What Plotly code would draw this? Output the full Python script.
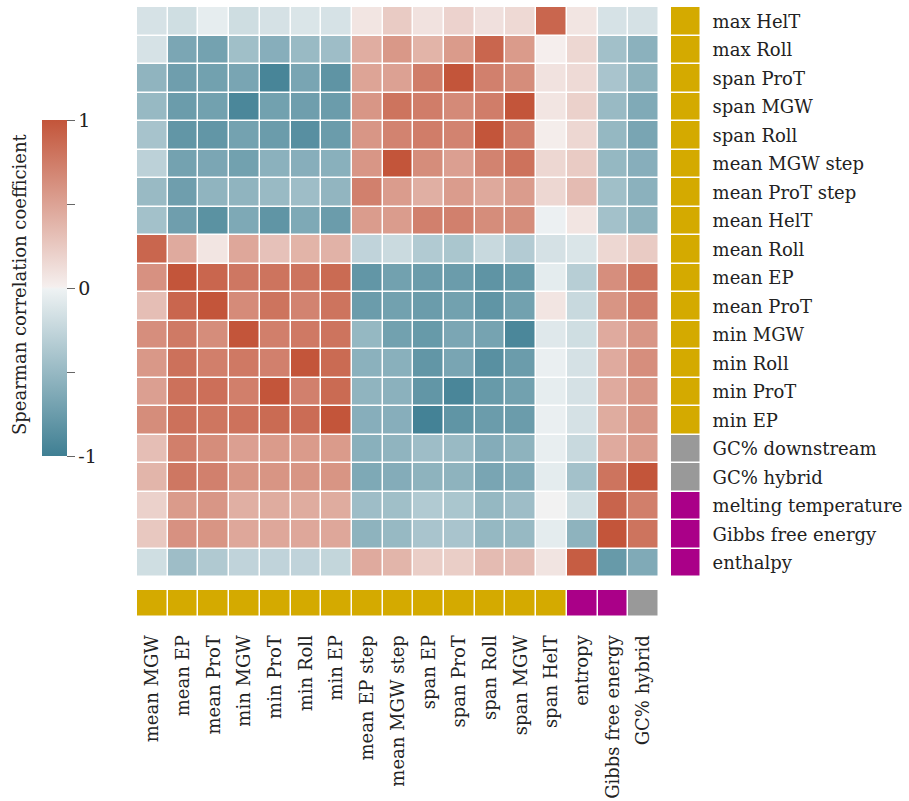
import plotly.graph_objects as go

# Feature names
row_labels = [
    "max HelT", "max Roll", "span ProT", "span MGW", "span Roll",
    "mean MGW step", "mean ProT step", "mean HelT", "mean Roll", "mean EP",
    "mean ProT", "min MGW", "min Roll", "min ProT", "min EP",
    "GC% downstream", "GC% hybrid", "melting temperature",
    "Gibbs free energy", "enthalpy",
]
col_labels = [
    "mean MGW", "mean EP", "mean ProT", "min MGW", "min ProT", "min Roll",
    "min EP", "mean EP step", "mean MGW step", "span EP", "span ProT",
    "span Roll", "span MGW", "span HelT", "entropy", "Gibbs free energy",
    "GC% hybrid",
]

# Feature groups: 0 = DNA shape, 1 = GC content, 2 = thermodynamics
row_groups = [0] * 15 + [1, 1] + [2, 2, 2]
col_groups = [0] * 14 + [2, 2, 1]

# Spearman correlation coefficients (rows x columns)
rho = [
    [-0.14, -0.18, -0.05, -0.19, -0.15, -0.12, -0.14, 0.07, 0.24, 0.09, 0.19, 0.10, 0.15, 0.89, 0.07, -0.14, -0.15],
    [-0.14, -0.66, -0.70, -0.45, -0.59, -0.49, -0.46, 0.43, 0.57, 0.39, 0.55, 0.89, 0.55, 0.01, 0.16, -0.44, -0.57],
    [-0.54, -0.73, -0.71, -0.67, -0.95, -0.67, -0.82, 0.49, 0.51, 0.74, 1.00, 0.72, 0.64, 0.09, 0.14, -0.40, -0.55],
    [-0.50, -0.75, -0.71, -0.93, -0.71, -0.73, -0.75, 0.58, 0.80, 0.74, 0.66, 0.74, 1.00, 0.07, 0.20, -0.49, -0.63],
    [-0.41, -0.80, -0.80, -0.70, -0.75, -0.86, -0.75, 0.58, 0.70, 0.74, 0.70, 1.00, 0.74, 0.02, 0.16, -0.51, -0.67],
    [-0.29, -0.70, -0.66, -0.71, -0.57, -0.59, -0.58, 0.58, 1.00, 0.64, 0.52, 0.70, 0.81, 0.16, 0.24, -0.51, -0.59],
    [-0.49, -0.73, -0.54, -0.54, -0.49, -0.46, -0.53, 0.72, 0.54, 0.42, 0.54, 0.46, 0.54, 0.16, 0.34, -0.45, -0.57],
    [-0.43, -0.73, -0.84, -0.64, -0.81, -0.64, -0.75, 0.54, 0.54, 0.72, 0.72, 0.64, 0.64, -0.02, 0.07, -0.43, -0.55],
    [0.89, 0.45, 0.07, 0.47, 0.30, 0.39, 0.40, -0.27, -0.21, -0.35, -0.39, -0.22, -0.34, -0.15, -0.12, 0.16, 0.24],
    [0.61, 1.00, 0.89, 0.78, 0.80, 0.80, 0.86, -0.80, -0.71, -0.75, -0.75, -0.82, -0.77, -0.06, -0.32, 0.63, 0.80],
    [0.32, 0.89, 1.00, 0.65, 0.80, 0.70, 0.80, -0.75, -0.71, -0.75, -0.71, -0.81, -0.71, 0.07, -0.22, 0.59, 0.74],
    [0.63, 0.76, 0.64, 1.00, 0.73, 0.77, 0.80, -0.51, -0.71, -0.77, -0.66, -0.69, -0.93, -0.09, -0.18, 0.45, 0.58],
    [0.57, 0.82, 0.73, 0.77, 0.72, 1.00, 0.86, -0.57, -0.58, -0.80, -0.67, -0.85, -0.75, -0.03, -0.15, 0.45, 0.63],
    [0.52, 0.82, 0.83, 0.73, 1.00, 0.72, 0.86, -0.54, -0.57, -0.80, -0.94, -0.77, -0.71, -0.05, -0.15, 0.45, 0.58],
    [0.64, 0.82, 0.79, 0.81, 0.86, 0.85, 1.00, -0.59, -0.59, -0.97, -0.81, -0.75, -0.75, -0.03, -0.15, 0.44, 0.58],
    [0.32, 0.73, 0.64, 0.52, 0.55, 0.55, 0.55, -0.58, -0.54, -0.46, -0.49, -0.61, -0.55, -0.04, -0.22, 0.45, 0.54],
    [0.38, 0.78, 0.72, 0.59, 0.59, 0.59, 0.59, -0.64, -0.61, -0.55, -0.55, -0.67, -0.63, -0.06, -0.43, 0.80, 1.00],
    [0.20, 0.55, 0.58, 0.42, 0.44, 0.44, 0.44, -0.46, -0.45, -0.35, -0.39, -0.51, -0.46, 0.00, -0.17, 0.90, 0.73],
    [0.26, 0.61, 0.59, 0.47, 0.47, 0.47, 0.47, -0.55, -0.50, -0.40, -0.40, -0.51, -0.50, -0.06, -0.55, 1.00, 0.80],
    [-0.18, -0.46, -0.36, -0.27, -0.27, -0.27, -0.25, 0.45, 0.38, 0.22, 0.22, 0.34, 0.34, 0.08, 0.95, -0.77, -0.63],
]

# Diverging blue-white-red colour scale
corr_scale = [
    [0.0, "#3f7f93"],
    [0.497, "#eef2f3"],
    [0.5, "#f2f2f2"],
    [0.503, "#f5efee"],
    [1.0, "#c3553a"],
]
# Group colours
group_scale = [
    [0.0, "#d4aa00"], [1 / 3, "#d4aa00"],
    [1 / 3, "#999999"], [2 / 3, "#999999"],
    [2 / 3, "#aa0088"], [1.0, "#aa0088"],
]

FONT = "DejaVu Serif"
FSIZE = 18
W, H = 909, 801


def px_x(a, b):
    return [a / W, b / W]


def px_y(top, bottom):
    return [1 - bottom / H, 1 - top / H]


fig = go.Figure()

fig.add_trace(go.Heatmap(
    z=rho, x=col_labels, y=row_labels,
    colorscale=corr_scale, zmin=-1, zmax=1,
    xgap=1.5, ygap=1.5,
    xaxis="x", yaxis="y",
    colorbar=dict(
        x=42 / W, xanchor="left", xpad=0,
        y=1 - 288 / H, yanchor="middle", ypad=0,
        thickness=25, thicknessmode="pixels",
        len=336, lenmode="pixels",
        outlinewidth=0,
        tickvals=[-1, -0.5, 0, 0.5, 1],
        ticktext=["-1", "", "0", "", "1"],
        ticks="outside", ticklen=8, tickwidth=1.2, tickcolor="#666666",
        tickfont=dict(family=FONT, size=FSIZE + 1, color="#222222"),
    ),
))

# Row group strip
fig.add_trace(go.Heatmap(
    z=[[g] for g in row_groups], x=["group"], y=row_labels,
    colorscale=group_scale, zmin=-0.5, zmax=2.5, showscale=False,
    xgap=1.5, ygap=1.5,
    xaxis="x2", yaxis="y2",
))

# Column group strip
fig.add_trace(go.Heatmap(
    z=[col_groups], x=col_labels, y=["group"],
    colorscale=group_scale, zmin=-0.5, zmax=2.5, showscale=False,
    xgap=1.5, ygap=1.5,
    xaxis="x3", yaxis="y3",
))

label_font = dict(family=FONT, size=FSIZE, color="#222222")

fig.update_layout(
    width=W, height=H,
    margin=dict(l=0, r=0, t=0, b=0),
    paper_bgcolor="white", plot_bgcolor="white",
    font=label_font,
    xaxis=dict(domain=px_x(137, 659), showticklabels=False, showgrid=False,
               zeroline=False, ticks="", anchor="y"),
    yaxis=dict(domain=px_y(7, 577), autorange="reversed", showticklabels=False,
               showgrid=False, zeroline=False, ticks="", anchor="x"),
    xaxis2=dict(domain=px_x(671, 701), showticklabels=False, showgrid=False,
                zeroline=False, ticks="", anchor="y2"),
    yaxis2=dict(domain=px_y(7, 577), autorange="reversed", side="right",
                showgrid=False, zeroline=False, ticks="outside", ticklen=7,
                tickcolor="rgba(0,0,0,0)", tickfont=label_font, anchor="x2",
                categoryorder="array", categoryarray=row_labels),
    xaxis3=dict(domain=px_x(137, 659), showgrid=False, zeroline=False,
                ticks="outside", ticklen=10, tickcolor="rgba(0,0,0,0)",
                tickangle=-90, tickfont=label_font, anchor="y3",
                categoryorder="array", categoryarray=col_labels),
    yaxis3=dict(domain=px_y(590, 617), showticklabels=False, showgrid=False,
                zeroline=False, ticks="", anchor="x3"),
    annotations=[dict(
        text="Spearman correlation coefficient",
        x=19 / W, y=1 - 284 / H, xref="paper", yref="paper",
        xanchor="center", yanchor="middle", textangle=-90,
        showarrow=False, font=dict(family=FONT, size=FSIZE, color="#222222"),
    )],
)

fig.write_html("out.html")
